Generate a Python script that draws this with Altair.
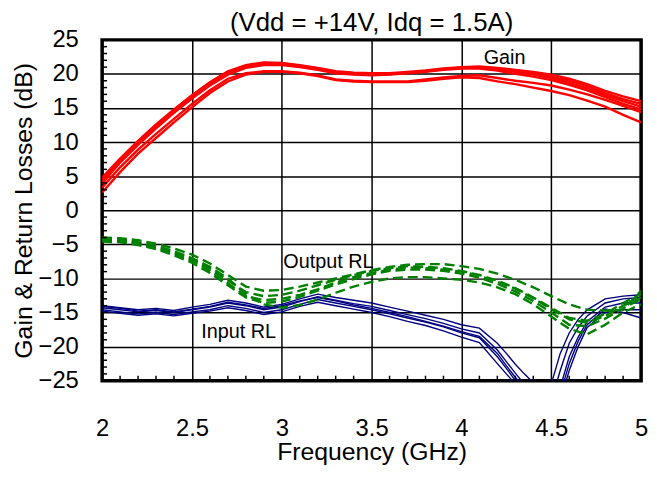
import altair as alt
import pandas as pd

# ---------------- data ----------------
freq = [2.0, 2.1, 2.2, 2.3, 2.4, 2.5, 2.6, 2.7, 2.8, 2.9, 3.0, 3.1, 3.2, 3.3, 3.4, 3.5,
        3.6, 3.7, 3.8, 3.9, 4.0, 4.1, 4.2, 4.3, 4.4, 4.5, 4.6, 4.7, 4.8, 4.9, 5.0]

gain = {
    "G1": [4.8, 7.6, 10.2, 12.6, 14.8, 16.9, 18.8, 20.4, 21.3, 21.7, 21.6, 21.3, 20.9, 20.4, 20.2, 20.1,
           20.1, 20.3, 20.5, 20.8, 21.0, 21.1, 20.9, 20.6, 20.3, 19.9, 19.3, 18.5, 17.5, 16.7, 16.0],
    "G2": [4.2, 7.2, 9.9, 12.3, 14.6, 16.7, 18.6, 20.2, 21.1, 21.5, 21.4, 21.1, 20.7, 20.2, 20.0, 19.9,
           20.0, 20.2, 20.4, 20.7, 20.9, 20.9, 20.7, 20.3, 19.9, 19.4, 18.7, 17.9, 16.9, 16.0, 15.2],
    "G3": [3.9, 7.0, 9.6, 12.0, 14.3, 16.4, 18.3, 19.9, 20.9, 21.3, 21.3, 21.0, 20.6, 20.1, 19.9, 19.8,
           19.9, 20.1, 20.3, 20.6, 20.8, 20.8, 20.5, 20.0, 19.6, 19.1, 18.4, 17.6, 16.6, 15.6, 14.8],
    "G4": [4.5, 7.4, 10.0, 12.4, 14.7, 16.8, 18.7, 20.3, 21.2, 21.6, 21.5, 21.2, 20.8, 20.3, 20.1, 20.0,
           20.0, 20.2, 20.4, 20.7, 20.9, 21.0, 20.8, 20.5, 20.1, 19.6, 19.0, 18.2, 17.2, 16.3, 15.6],
    "G5": [3.3, 6.3, 8.9, 11.2, 13.4, 15.6, 17.6, 19.3, 20.1, 20.4, 20.4, 20.2, 19.8, 19.2, 19.0, 18.9,
           18.9, 18.9, 19.2, 19.5, 19.7, 19.8, 19.4, 19.0, 18.7, 18.3, 17.7, 17.0, 16.2, 15.3, 14.4],
    "G6": [2.6, 5.6, 8.3, 10.6, 12.9, 15.1, 17.2, 18.9, 19.9, 20.3, 20.3, 20.1, 19.7, 19.1, 18.9, 18.8,
           18.8, 18.8, 19.0, 19.3, 19.5, 19.4, 18.9, 18.5, 18.0, 17.5, 16.9, 16.1, 15.2, 14.0, 12.9],
}

output_rl = {
    "O1": [-4.0, -4.1, -4.4, -4.9, -5.6, -6.5, -7.8, -9.5, -11.2, -11.8, -11.7, -11.2, -10.6, -10.0, -9.4, -8.8,
           -8.3, -8.0, -7.9, -7.9, -8.2, -8.6, -9.3, -10.2, -11.3, -12.6, -13.8, -14.6, -14.7, -14.6, -11.8],
    "O2": [-4.3, -4.4, -4.8, -5.4, -6.2, -7.2, -8.6, -10.3, -12.0, -12.6, -12.4, -11.8, -11.0, -10.2, -9.5, -8.9,
           -8.5, -8.2, -8.3, -8.5, -8.9, -9.5, -10.3, -11.4, -12.8, -14.3, -15.8, -16.2, -15.2, -13.6, -12.3],
    "O3": [-4.6, -4.7, -5.1, -5.7, -6.6, -7.7, -9.2, -11.0, -12.8, -13.6, -13.4, -12.7, -11.8, -10.9, -10.1, -9.4,
           -8.9, -8.7, -8.7, -8.9, -9.3, -9.9, -10.8, -11.9, -13.3, -15.0, -16.8, -17.0, -15.9, -14.4, -13.0],
    "O4": [-4.2, -4.3, -4.7, -5.2, -6.0, -7.0, -8.3, -10.0, -12.3, -13.8, -14.3, -13.9, -13.1, -12.1, -11.2, -10.5,
           -10.0, -9.8, -9.8, -10.0, -10.2, -10.6, -11.3, -12.3, -13.8, -15.6, -17.4, -18.2, -16.8, -15.0, -13.8],
    "O5": [-4.4, -4.5, -4.9, -5.5, -6.4, -7.4, -8.9, -10.7, -12.6, -13.2, -13.0, -12.4, -11.6, -10.6, -9.8, -9.2,
           -8.7, -8.4, -8.5, -8.7, -9.0, -9.6, -10.5, -11.5, -12.9, -14.5, -16.0, -16.5, -15.5, -14.0, -12.8],
}

freq_in = [2.0, 2.1, 2.2, 2.3, 2.4, 2.5, 2.6, 2.7, 2.8, 2.9, 3.0, 3.1, 3.2, 3.3, 3.4, 3.5,
           3.6, 3.7, 3.8, 3.9, 4.0, 4.1, 4.2, 4.25, 4.3, 4.35, 4.4, 4.45, 4.5, 4.55, 4.6,
           4.65, 4.7, 4.8, 4.9, 5.0]

input_rl = {
    "I1": [-14.0, -14.3, -14.6, -14.4, -14.7, -14.2, -13.8, -13.2, -13.6, -14.2, -13.8, -13.0, -12.3, -12.8, -13.2, -13.6,
           -14.2, -14.8, -15.4, -16.0, -16.8, -17.3, -19.5, -21.0, -22.6, -24.0, -25.3, -27.0, -25.5, -21.0, -18.0,
           -16.0, -14.6, -13.0, -12.6, -12.4],
    "I2": [-14.3, -14.6, -14.9, -14.7, -15.0, -14.6, -14.2, -13.6, -14.0, -14.6, -14.2, -13.4, -12.7, -13.2, -13.7, -14.1,
           -14.7, -15.3, -15.9, -16.6, -17.4, -18.0, -20.5, -22.2, -23.9, -25.5, -27.0, -29.0, -28.0, -23.5, -19.5,
           -17.2, -15.5, -13.6, -13.0, -12.8],
    "I3": [-14.6, -14.9, -15.2, -15.0, -15.3, -14.9, -14.6, -14.0, -14.4, -15.0, -14.6, -13.8, -13.1, -13.6, -14.1, -14.6,
           -15.2, -15.8, -16.4, -17.1, -18.0, -18.7, -21.5, -23.2, -25.0, -26.8, -28.5, -30.0, -30.0, -26.0, -21.5,
           -18.6, -16.3, -14.2, -13.6, -13.6],
    "I4": [-14.8, -15.1, -15.4, -15.2, -15.5, -15.1, -14.8, -14.3, -14.7, -15.3, -14.9, -14.1, -13.5, -14.0, -14.5, -15.0,
           -15.6, -16.3, -16.9, -17.7, -18.6, -19.4, -22.5, -24.0, -25.5, -27.5, -29.5, -31.0, -31.0, -28.0, -23.5,
           -20.0, -17.2, -15.0, -14.6, -14.6],
    "I5": [-14.1, -14.4, -14.8, -14.6, -14.9, -14.5, -14.1, -13.5, -13.9, -14.4, -14.0, -13.3, -12.8, -13.3, -13.9, -14.4,
           -15.0, -15.6, -16.3, -17.0, -17.8, -18.5, -21.0, -22.8, -24.5, -26.2, -28.0, -30.0, -30.0, -27.0, -22.5,
           -19.2, -16.8, -14.5, -15.0, -15.8],
}

x_ticks = [2, 2.5, 3, 3.5, 4, 4.5, 5]
y_ticks = [-25, -20, -15, -10, -5, 0, 5, 10, 15, 20, 25]
x_minor = [2.1, 2.2, 2.3, 2.4, 2.6, 2.7, 2.8, 2.9, 3.1, 3.2, 3.3, 3.4, 3.6, 3.7, 3.8, 3.9,
           4.1, 4.2, 4.3, 4.4, 4.6, 4.7, 4.8, 4.9]
y_minor = [v for v in range(-24, 25) if v % 5 != 0]

labels = ["Gain", "Output RL", "Input RL"]
label_f = [4.24, 3.26, 2.76]
label_v = [22.4, -7.6, -17.8]

title_text = "(Vdd = +14V, Idq = 1.5A)"
x_title = "Frequency (GHz)"
y_title = "Gain & Return Losses (dB)"

# ---------------- frames ----------------
def long_frame(fs, traces):
    rows = []
    for name, vals in traces.items():
        for f, v in zip(fs, vals):
            rows.append({"f": f, "v": v, "trace": name})
    return pd.DataFrame(rows)

df_gain = long_frame(freq, gain)
df_out = long_frame(freq, output_rl)
df_in = long_frame(freq_in, input_rl)
df_xminor = pd.DataFrame({"f": x_minor})
df_yminor = pd.DataFrame({"v": y_minor})
df_lab = pd.DataFrame({"label": labels, "f": label_f, "v": label_v})

FONT = "Liberation Sans, Arial, Helvetica, sans-serif"
W, H = 544, 344

X = alt.X("f:Q", scale=alt.Scale(domain=[2, 5], nice=False, zero=False),
          axis=alt.Axis(values=x_ticks, format="~g", title=x_title))
Y = alt.Y("v:Q", scale=alt.Scale(domain=[-25, 25], nice=False, zero=False),
          axis=alt.Axis(values=y_ticks, format="d", title=y_title))

blue = alt.Chart(df_in).mark_line(clip=True, strokeWidth=1.4, color="#000080").encode(
    x=X, y=Y, detail="trace:N")
green = alt.Chart(df_out).mark_line(clip=True, strokeWidth=2.4, strokeDash=[10, 5], color="#008000").encode(
    x=X, y=Y, detail="trace:N")
red = alt.Chart(df_gain).mark_line(clip=True, strokeWidth=2.4, color="#ff0000").encode(
    x=X, y=Y, detail="trace:N")

xminor = alt.Chart(df_xminor).mark_rule(color="black", strokeWidth=1.5).encode(
    x=X, y=alt.value(H), y2=alt.value(H - 5))
yminor = alt.Chart(df_yminor).mark_rule(color="black", strokeWidth=1.5).encode(
    y=Y, x=alt.value(0), x2=alt.value(5))

text = alt.Chart(df_lab).mark_text(font=FONT, fontSize=20, color="black").encode(
    x=X, y=Y, text="label:N")

chart = alt.layer(blue, green, red, xminor, yminor, text).properties(
    width=W, height=H,
    title=alt.TitleParams(title_text, anchor="middle", font=FONT, fontSize=26,
                          fontWeight="normal", color="black", offset=-8),
    padding={"left": 95, "top": 30, "right": 8, "bottom": 88},
    autosize=alt.AutoSizeParams(type="none"),
).configure_view(
    stroke="black", strokeWidth=3.5
).configure_axis(
    domain=False, ticks=False, grid=True, gridColor="black", gridWidth=1.5, gridOpacity=1,
    labelFont=FONT, labelFontSize=24, labelColor="black",
    titleFont=FONT, titleFontSize=25, titleFontWeight="normal", titleColor="black",
).configure_axisX(
    labelPadding=36, titlePadding=0, labelFlush=False
).configure_axisY(
    labelPadding=24, titlePadding=2
)

chart.save("out.html", embed_options={"renderer": "svg", "actions": False})
